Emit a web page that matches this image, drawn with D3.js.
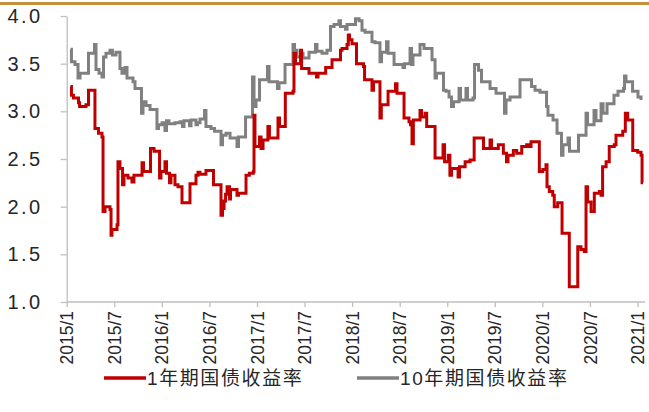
<!DOCTYPE html>
<html>
<head>
<meta charset="utf-8">
<script src="https://cdn.jsdelivr.net/npm/d3@7"></script>
<style>
  body { margin: 0; background: #fff; }
  svg { display: block; }
</style>
</head>
<body>
<svg id="chart" width="649" height="412"></svg>
<script>
// time in decimal years, yields in %
const t1 = [2015.040, 2015.050, 2015.071, 2015.124, 2015.135, 2015.203, 2015.229, 2015.297, 2015.334, 2015.371,
  2015.382, 2015.403, 2015.455, 2015.466, 2015.476, 2015.529, 2015.539, 2015.560, 2015.587, 2015.602,
  2015.644, 2015.686, 2015.707, 2015.792, 2015.807, 2015.881, 2015.918, 2015.976, 2015.991, 2016.033,
  2016.049, 2016.081, 2016.096, 2016.138, 2016.170, 2016.212, 2016.296, 2016.359, 2016.380, 2016.401,
  2016.464, 2016.543, 2016.622, 2016.638, 2016.654, 2016.670, 2016.686, 2016.712, 2016.722, 2016.790,
  2016.806, 2016.885, 2016.920, 2016.962, 2016.969, 2016.979, 2017.027, 2017.043, 2017.064, 2017.115,
  2017.131, 2017.221, 2017.237, 2017.298, 2017.379, 2017.389, 2017.405, 2017.458, 2017.469, 2017.547,
  2017.626, 2017.642, 2017.722, 2017.789, 2017.878, 2017.894, 2017.947, 2017.960, 2017.973, 2017.999,
  2018.046, 2018.120, 2018.131, 2018.209, 2018.225, 2018.293, 2018.307, 2018.378, 2018.456, 2018.472,
  2018.546, 2018.598, 2018.614, 2018.630, 2018.644, 2018.714, 2018.730, 2018.767, 2018.784, 2018.872,
  2018.956, 2018.972, 2019.011, 2019.028, 2019.045, 2019.114, 2019.129, 2019.188, 2019.240, 2019.283,
  2019.381, 2019.450, 2019.466, 2019.537, 2019.590, 2019.623, 2019.639, 2019.695, 2019.730, 2019.783,
  2019.835, 2019.865, 2019.881, 2019.968, 2020.004, 2020.038, 2020.049, 2020.073, 2020.109, 2020.125,
  2020.161, 2020.207, 2020.283, 2020.372, 2020.406, 2020.441, 2020.459, 2020.475, 2020.512, 2020.546,
  2020.599, 2020.617, 2020.633, 2020.670, 2020.703, 2020.756, 2020.774, 2020.845, 2020.872, 2020.897,
  2020.950, 2021.002, 2021.037, 2021.048, 2021.058];
const y1 = [3.26, 3.17, 3.14, 3.09, 3.05, 3.07, 3.22, 2.82, 2.77, 2.73,
  1.95, 2.00, 1.97, 1.70, 1.76, 1.81, 2.47, 2.40, 2.23, 2.33,
  2.30, 2.26, 2.33, 2.46, 2.37, 2.61, 2.58, 2.30, 2.37, 2.47,
  2.35, 2.25, 2.33, 2.23, 2.21, 2.04, 2.24, 2.33, 2.36, 2.34,
  2.38, 2.23, 1.91, 1.98, 2.06, 2.13, 2.21, 2.08, 2.18, 2.12,
  2.14, 2.33, 2.35, 2.37, 2.96, 2.63, 2.73, 2.61, 2.70, 2.84,
  2.72, 2.93, 2.84, 3.19, 3.21, 3.61, 3.50, 3.64, 3.45, 3.40,
  3.36, 3.40, 3.46, 3.54, 3.64, 3.66, 3.70, 3.80, 3.75, 3.71,
  3.50, 3.47, 3.33, 3.22, 3.31, 2.93, 3.07, 3.21, 3.29, 3.19,
  2.93, 2.89, 2.86, 2.66, 2.91, 3.01, 2.94, 2.98, 2.84, 2.51,
  2.65, 2.47, 2.54, 2.33, 2.40, 2.31, 2.42, 2.47, 2.49, 2.72,
  2.61, 2.70, 2.61, 2.65, 2.56, 2.47, 2.54, 2.59, 2.56, 2.63,
  2.65, 2.63, 2.68, 2.37, 2.39, 2.44, 2.21, 2.16, 2.12, 2.00,
  2.04, 1.72, 1.16, 1.58, 1.55, 1.53, 2.21, 2.05, 1.95, 2.14,
  2.16, 2.12, 2.42, 2.47, 2.63, 2.65, 2.75, 2.79, 2.98, 2.91,
  2.59, 2.57, 2.54, 2.25, 2.25];

const t10 = [2015.040, 2015.050, 2015.087, 2015.119, 2015.140, 2015.229, 2015.292, 2015.308, 2015.340, 2015.371,
  2015.387, 2015.413, 2015.455, 2015.481, 2015.518, 2015.560, 2015.581, 2015.613, 2015.634, 2015.697,
  2015.718, 2015.786, 2015.802, 2015.834, 2015.876, 2015.949, 2015.965, 2016.002, 2016.033, 2016.049,
  2016.075, 2016.138, 2016.191, 2016.217, 2016.233, 2016.291, 2016.307, 2016.359, 2016.375, 2016.401,
  2016.449, 2016.464, 2016.517, 2016.554, 2016.622, 2016.638, 2016.675, 2016.717, 2016.790, 2016.806,
  2016.880, 2016.953, 2016.969, 2016.990, 2017.027, 2017.111, 2017.127, 2017.216, 2017.232, 2017.295,
  2017.379, 2017.395, 2017.421, 2017.458, 2017.484, 2017.547, 2017.615, 2017.631, 2017.684, 2017.736,
  2017.773, 2017.810, 2017.862, 2017.878, 2017.931, 2017.947, 2018.036, 2018.073, 2018.104, 2018.136,
  2018.209, 2018.241, 2018.293, 2018.309, 2018.362, 2018.378, 2018.441, 2018.535, 2018.551, 2018.609,
  2018.625, 2018.640, 2018.714, 2018.756, 2018.840, 2018.872, 2018.887, 2018.961, 2018.987, 2019.019,
  2019.045, 2019.066, 2019.124, 2019.140, 2019.197, 2019.213, 2019.271, 2019.287, 2019.329, 2019.360,
  2019.450, 2019.513, 2019.602, 2019.618, 2019.660, 2019.765, 2019.886, 2019.923, 2019.975, 2020.044,
  2020.059, 2020.112, 2020.154, 2020.201, 2020.217, 2020.270, 2020.285, 2020.380, 2020.459, 2020.475,
  2020.543, 2020.564, 2020.617, 2020.638, 2020.680, 2020.753, 2020.795, 2020.853, 2020.864, 2020.879,
  2020.948, 2021.005, 2021.037];
const y10 = [3.65, 3.52, 3.49, 3.35, 3.40, 3.61, 3.70, 3.44, 3.40, 3.36,
  3.57, 3.61, 3.64, 3.59, 3.62, 3.45, 3.40, 3.46, 3.35, 3.31,
  3.24, 2.98, 3.10, 3.06, 3.02, 2.82, 2.86, 2.88, 2.80, 2.90,
  2.87, 2.88, 2.89, 2.84, 2.90, 2.85, 2.91, 2.86, 2.88, 2.92,
  3.01, 2.84, 2.82, 2.79, 2.65, 2.75, 2.77, 2.72, 2.63, 2.73,
  2.94, 3.36, 3.05, 3.12, 3.33, 3.47, 3.31, 3.24, 3.30, 3.49,
  3.70, 3.64, 3.57, 3.61, 3.56, 3.62, 3.70, 3.63, 3.61, 3.64,
  3.89, 3.91, 3.95, 3.89, 3.86, 3.91, 3.97, 3.95, 3.85, 3.83,
  3.73, 3.72, 3.52, 3.62, 3.73, 3.61, 3.49, 3.46, 3.50, 3.66,
  3.49, 3.59, 3.70, 3.66, 3.54, 3.35, 3.40, 3.22, 3.21, 3.15,
  3.05, 3.10, 3.24, 3.12, 3.24, 3.12, 3.14, 3.49, 3.43, 3.31,
  3.24, 3.19, 2.98, 3.12, 3.15, 3.33, 3.26, 3.22, 3.20, 3.05,
  2.96, 2.91, 2.77, 2.54, 2.65, 2.72, 2.58, 2.75, 2.98, 2.86,
  3.01, 2.90, 3.08, 2.98, 3.08, 3.17, 3.21, 3.24, 3.37, 3.31,
  3.21, 3.15, 3.12];

const xTicks = [2015, 2015.5, 2016, 2016.5, 2017, 2017.5, 2018, 2018.5, 2019, 2019.5, 2020, 2020.5, 2021];
const yTicks = [1.0, 1.5, 2.0, 2.5, 3.0, 3.5, 4.0];
const seriesNames = ["1年期国债收益率", "10年期国债收益率"];
const seriesColors = ["#C00000", "#808080"];

const width = 649, height = 412;
const plotLeft = 66.7, plotRight = 637.5, plotTop = 16, plotBottom = 302;
const fontFamily = '"Liberation Sans", Arial, "Noto Sans CJK SC", sans-serif';

const svg = d3.select("#chart");

svg.append("rect").attr("width", width).attr("height", height).attr("fill", "#fff");
svg.append("rect").attr("x", 0).attr("y", 2).attr("width", width).attr("height", 3).attr("fill", "#C4923F");

const x = d3.scaleLinear().domain([2015, 2021]).range([plotLeft, plotRight]);
const y = d3.scaleLinear().domain([1, 4]).range([plotBottom, plotTop]);

// y axis
const yAxis = svg.append("g")
  .attr("transform", `translate(${plotLeft},0)`)
  .call(d3.axisLeft(y).tickValues(yTicks).tickSize(6).tickSizeOuter(0).tickPadding(18)
    .tickFormat(d3.format(".1f")));
yAxis.select(".domain").attr("stroke", "#BFBFBF").attr("stroke-width", 1.3);
yAxis.selectAll(".tick line").attr("stroke", "#BFBFBF").attr("stroke-width", 1.3);
yAxis.selectAll(".tick text")
  .attr("fill", "#262626")
  .attr("font-family", fontFamily)
  .attr("font-size", 20)
  .attr("letter-spacing", 2.5);

// x axis
const xAxis = svg.append("g")
  .attr("transform", `translate(0,${plotBottom})`)
  .call(d3.axisBottom(x).tickValues(xTicks).tickSize(5).tickSizeOuter(0)
    .tickFormat(d => `${Math.floor(d)}/${d % 1 ? 7 : 1}`));
xAxis.select(".domain").remove();
xAxis.append("line").attr("x1", plotLeft).attr("x2", 645).attr("stroke", "#BFBFBF").attr("stroke-width", 1.3);
xAxis.selectAll(".tick line").attr("stroke", "#BFBFBF").attr("stroke-width", 1.3);
xAxis.selectAll(".tick text")
  .attr("fill", "#262626")
  .attr("font-family", fontFamily)
  .attr("font-size", 17.5)
  .attr("text-anchor", "end")
  .attr("transform", "rotate(-90)")
  .attr("x", -9)
  .attr("y", 0)
  .attr("dy", "0.35em");

const line = d3.line()
  .x(d => x(d[0]))
  .y(d => y(d[1]))
  .curve(d3.curveStepAfter);

const data10 = t10.map((t, i) => [t, y10[i]]);
const data1 = t1.map((t, i) => [t, y1[i]]);

svg.append("path")
  .datum(data10)
  .attr("fill", "none")
  .attr("stroke", seriesColors[1])
  .attr("stroke-width", 3)
  .attr("d", line);

svg.append("path")
  .datum(data1)
  .attr("fill", "none")
  .attr("stroke", seriesColors[0])
  .attr("stroke-width", 3)
  .attr("d", line);

// legend
const legendX = [104, 357];
const legend = svg.append("g").attr("transform", "translate(0,378)");
seriesNames.forEach((name, i) => {
  legend.append("line")
    .attr("x1", legendX[i]).attr("x2", legendX[i] + 42)
    .attr("stroke", seriesColors[i]).attr("stroke-width", 3.5);
  legend.append("text")
    .attr("x", legendX[i] + 43)
    .attr("y", 0)
    .attr("dy", "0.36em")
    .attr("fill", "#262626")
    .attr("font-family", fontFamily)
    .attr("font-size", 19)
    .attr("letter-spacing", 1.6)
    .text(name);
});
</script>
</body>
</html>
